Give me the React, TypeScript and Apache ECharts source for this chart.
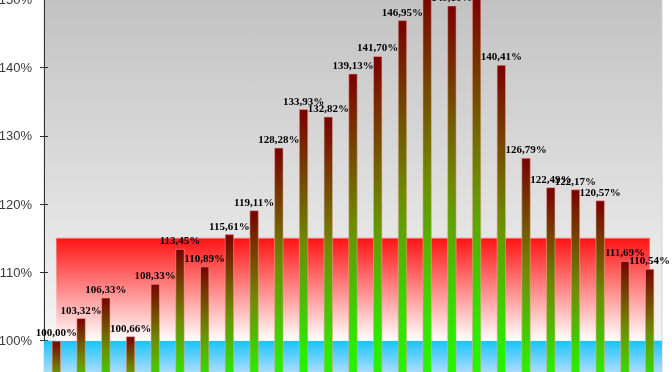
import React, { useEffect, useRef } from "react";
import * as echarts from "echarts";

const categories = [
  "1", "2", "3", "4", "5", "6", "7", "8", "9", "10", "11", "12", "13",
  "14", "15", "16", "17", "18", "19", "20", "21", "22", "23", "24", "25",
];
const values = [
  100.0, 103.32, 106.33, 100.66, 108.33, 113.45, 110.89, 115.61, 119.11,
  128.28, 133.93, 132.82, 139.13, 141.7, 146.95, 151.2, 149.1, 150.6, 140.41,
  126.79, 122.49, 122.17, 120.57, 111.69, 110.54,
];
const redBand = [100, 115];
const blueBand = [90, 100];
const yMin = 90;
const yMax = 160;
const yInterval = 10;

export default function App() {
  const ref = useRef<HTMLDivElement>(null);
  useEffect(() => {
    if (!ref.current) return;
    const chart = echarts.init(ref.current, null, { renderer: "svg" });
    const LG = echarts.graphic.LinearGradient;
    const redBase = categories.map(() => redBand[0]);
    const redTop = categories.map(() => redBand[1] - redBand[0]);
    chart.setOption({
      animation: false,
      grid: {
        left: 44,
        right: 10,
        top: 31,
        height: 478,
        containLabel: false,
        outerBoundsMode: "none",
        show: true,
        backgroundColor: new LG(0, 0, 0, 1, [
          { offset: 0, color: "#b8b8b8" },
          { offset: 1, color: "#ffffff" },
        ]),
        borderColor: "#d4d4d4",
        borderWidth: 1,
      },
      xAxis: {
        type: "category",
        data: categories,
        axisLine: { lineStyle: { color: "#404040" } },
        axisTick: { show: false },
        axisLabel: { show: false },
      },
      yAxis: [
        {
          type: "value",
          min: yMin,
          max: yMax,
          interval: yInterval,
          position: "left",
          axisLine: { show: true, lineStyle: { color: "#303030", width: 1 } },
          axisTick: { show: true, inside: false, length: 4, lineStyle: { color: "#303030" } },
          splitLine: { show: false },
          axisLabel: {
            formatter: (v: number) => v + "%",
            fontFamily: "Liberation Sans, Arial, sans-serif",
            fontSize: 13,
            color: "#3a3a3a",
            margin: 12,
          },
        },
        {
          type: "value",
          min: yMin,
          max: yMax,
          interval: yInterval,
          position: "left",
          offset: 0,
          axisLine: { show: false },
          axisTick: { show: true, inside: true, length: 4, lineStyle: { color: "#303030" } },
          splitLine: { show: false },
          axisLabel: { show: false },
        },
      ],
      series: [
        {
          type: "line",
          stack: "red",
          data: redBase,
          symbol: "none",
          silent: true,
          lineStyle: { width: 0, opacity: 0 },
          z: 1,
        },
        {
          type: "line",
          stack: "red",
          data: redTop,
          symbol: "none",
          silent: true,
          lineStyle: { width: 1, color: "#ff6a6a" },
          areaStyle: {
            opacity: 1,
            color: new LG(0, 0, 0, 1, [
              { offset: 0, color: "#ff1414" },
              { offset: 1, color: "#ffffff" },
            ]),
          },
          z: 1,
        },
        {
          type: "bar",
          data: values,
          barWidth: "38%",
          z: 3,
          itemStyle: {
            color: new LG(0, 0, 0, 1, [
              { offset: 0, color: "#7a0000" },
              { offset: 0.45, color: "#6e8c00" },
              { offset: 0.8, color: "#2ee800" },
              { offset: 1, color: "#1eff00" },
            ]),
            borderColor: "rgba(235,170,150,0.55)",
            borderWidth: 1,
          },
          label: {
            show: true,
            position: "top",
            distance: 3,
            formatter: (p: any) => p.value.toFixed(2).replace(".", ",") + "%",
            fontFamily: "Liberation Serif, Times New Roman, serif",
            fontWeight: "bold",
            fontSize: 11,
            color: "#000",
          },
          markArea: {
            silent: true,
            label: { show: false },
            data: [
              [
                {
                  yAxis: blueBand[1],
                  itemStyle: {
                    color: new LG(0, 0, 0, 1, [
                      { offset: 0, color: "#18c4fa" },
                      { offset: 0.46, color: "#aadcff" },
                      { offset: 1, color: "#f0f8ff" },
                    ]),
                  },
                },
                { xAxis: categories.length - 1, yAxis: blueBand[0] },
              ],
            ],
          },
        },
      ],
    });
    return () => chart.dispose();
  }, []);
  return (
    <div
      ref={ref}
      style={{ position: "fixed", left: 0, top: -100, width: 672, height: 560 }}
    />
  );
}
